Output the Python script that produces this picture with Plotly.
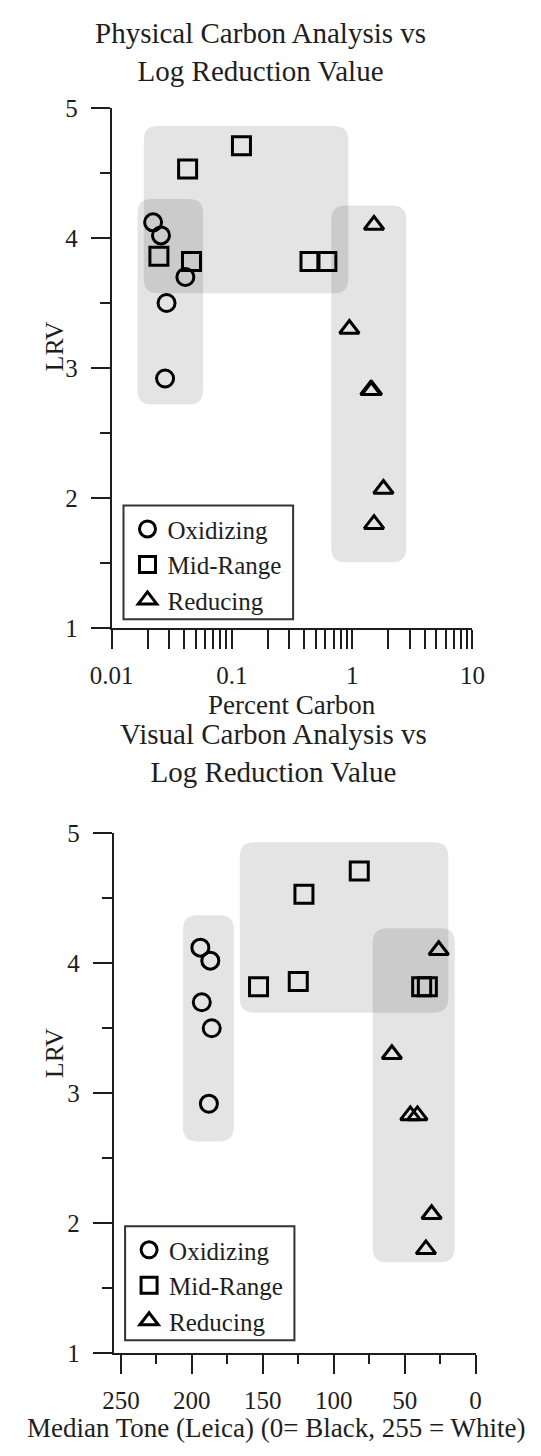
import numpy as np
import plotly.graph_objects as go

# ---------------- data ----------------
series_names = ["Oxidizing", "Mid-Range", "Reducing"]

# Top chart: Percent Carbon vs LRV
ox_pc = [0.0221, 0.0257, 0.0410, 0.0286, 0.0278]
ox_lrv = [4.12, 4.02, 3.70, 3.50, 2.92]
mid_pc = [0.120, 0.0428, 0.0247, 0.0461, 0.446, 0.616]
mid_lrv = [4.71, 4.53, 3.86, 3.82, 3.82, 3.82]
red_pc = [1.52, 0.948, 1.42, 1.46, 1.82, 1.52]
red_lrv = [4.10, 3.30, 2.83, 2.83, 2.07, 1.80]

# Bottom chart: Median Tone vs LRV
ox_tone = [194, 187, 193, 186, 188]
mid_tone = [82, 121, 125, 153, 38, 34]
red_tone = [26, 59, 46, 41, 31, 35]

# Shaded group regions (x range, y range)
pc_regions = [([0.0164, 0.0576], [2.72, 4.30]),
              ([0.0185, 0.93], [3.575, 4.86]),
              ([0.67, 2.82], [1.506, 4.25])]
tone_regions = [([170.4, 206.3], [2.63, 4.37]),
                ([19.2, 166.2], [3.62, 4.93]),
                ([14.7, 72.5], [1.70, 4.27])]

x_top_decades = [0.01, 0.1, 1, 10]
x_bot_ticks = [250, 200, 150, 100, 50, 0]
x_bot_minor = [225, 175, 125, 75, 25]
y_ticks = [1, 2, 3, 4, 5]
y_minor = [1.5, 2.5, 3.5, 4.5]

top_title = "Physical Carbon Analysis vs<br>Log Reduction Value"
bot_title = "Visual Carbon Analysis vs<br>Log Reduction Value"

# ---------------- style ----------------
W, H = 541, 1456
FONT = "Liberation Serif, Times New Roman, serif"
TXT = "#1e1e1e"
AX = "#1e1e1e"
symbols = ["circle-open", "square-open", "triangle-up-open"]
sizes = [17, 18, 17]
FILL = "rgba(0,0,0,0.105)"


def px_x(p):
    return p / W


def px_y(p):
    return 1 - p / H


fig = go.Figure()

top_x = [ox_pc, mid_pc, red_pc]
bot_x = [ox_tone, mid_tone, red_tone]
lrvs = [ox_lrv, mid_lrv, red_lrv]

for i, name in enumerate(series_names):
    fig.add_trace(go.Scatter(
        x=top_x[i], y=lrvs[i], mode="markers", name=name,
        xaxis="x", yaxis="y", legend="legend",
        marker=dict(symbol=symbols[i], size=sizes[i], color="black",
                    line=dict(width=3, color="black")),
        cliponaxis=False))
for i, name in enumerate(series_names):
    fig.add_trace(go.Scatter(
        x=bot_x[i], y=lrvs[i], mode="markers", name=name,
        xaxis="x2", yaxis="y2", legend="legend2",
        marker=dict(symbol=symbols[i], size=sizes[i], color="black",
                    line=dict(width=3, color="black")),
        cliponaxis=False))


def rounded_path(xr, yr, rx, ry, logx=False):
    if logx:
        lx0, lx1 = np.log10(xr[0]), np.log10(xr[1])
        f = lambda v: 10 ** v
    else:
        lx0, lx1 = xr
        f = lambda v: v
    y0, y1 = yr
    pts = [
        ("M", (f(lx0 + rx), y0)),
        ("L", (f(lx1 - rx), y0)),
        ("Q", (f(lx1), y0, f(lx1), y0 + ry)),
        ("L", (f(lx1), y1 - ry)),
        ("Q", (f(lx1), y1, f(lx1 - rx), y1)),
        ("L", (f(lx0 + rx), y1)),
        ("Q", (f(lx0), y1, f(lx0), y1 - ry)),
        ("L", (f(lx0), y0 + ry)),
        ("Q", (f(lx0), y0, f(lx0 + rx), y0)),
    ]
    s = ""
    for cmd, c in pts:
        s += cmd + " " + " ".join(f"{v:.6g}" for v in c) + " "
    return s + "Z"


shapes = []
for xr, yr in pc_regions:
    shapes.append(dict(type="path", xref="x", yref="y", layer="below",
                       path=rounded_path(xr, yr, 0.115, 0.11, logx=True),
                       fillcolor=FILL, line=dict(width=0)))
for xr, yr in tone_regions:
    shapes.append(dict(type="path", xref="x2", yref="y2", layer="below",
                       path=rounded_path(xr, yr, 10, 0.11),
                       fillcolor=FILL, line=dict(width=0)))
# legend frames
for (lx0, lx1, ly0, ly1) in [(108.3, 289.3, 501.7, 617.7),
                             (110.0, 290.7, 1236.3, 1352.3)]:
    shapes.append(dict(type="rect", xref="paper", yref="paper", layer="above",
                       x0=px_x(lx0), x1=px_x(lx1), y0=px_y(ly1), y1=px_y(ly0),
                       fillcolor="white", line=dict(width=2, color="#333333")))

tickfont = dict(family=FONT, size=25, color=TXT)
common_y = dict(range=[1, 5], tickvals=y_ticks, ticks="outside", ticklen=19,
                tickwidth=2, tickcolor=AX, showline=True, linecolor=AX,
                linewidth=2, showgrid=False, zeroline=False,
                tickfont=tickfont, ticklabelstandoff=8,
                minor=dict(tickvals=y_minor, ticks="outside", ticklen=10,
                           tickwidth=2, tickcolor=AX, showgrid=False))

# top log x ticks: every digit of each decade, labels only on decades
top_vals, top_text = [], []
for d in x_top_decades[:-1]:
    for k in range(1, 10):
        top_vals.append(d * k)
        top_text.append(f"{d:g}" if k == 1 else "")
top_vals.append(x_top_decades[-1])
top_text.append(f"{x_top_decades[-1]:g}")

legend_common = dict(font=dict(family=FONT, size=25, color=TXT),
                     borderwidth=0, bgcolor="rgba(0,0,0,0)",
                     xanchor="left", yanchor="top", tracegroupgap=0,
                     itemsizing="trace", indentation=4)

fig.update_layout(
    width=W, height=H, margin=dict(l=0, r=0, t=0, b=0),
    paper_bgcolor="white", plot_bgcolor="rgba(0,0,0,0)",
    font=dict(family=FONT, color=TXT),
    showlegend=True,
    shapes=shapes,
    xaxis=dict(type="log", range=[-2, 1], domain=[px_x(95.7), px_x(480.6)],
               anchor="y", tickvals=top_vals, ticktext=top_text,
               ticks="outside", ticklen=19, tickwidth=2, tickcolor=AX,
               showline=True, linecolor=AX, linewidth=2, showgrid=False,
               zeroline=False, tickfont=tickfont, ticklabelstandoff=5),
    yaxis=dict(domain=[px_y(626.8), px_y(96.7)], anchor="x", **common_y),
    xaxis2=dict(range=[255, 0], domain=[px_x(98), px_x(484)], anchor="y2",
                tickvals=x_bot_ticks, ticks="outside", ticklen=19,
                tickwidth=2, tickcolor=AX, showline=True, linecolor=AX,
                linewidth=2, showgrid=False, zeroline=False,
                tickfont=tickfont, ticklabelstandoff=5,
                minor=dict(tickvals=x_bot_minor, ticks="outside", ticklen=9,
                           tickwidth=2, tickcolor=AX, showgrid=False)),
    yaxis2=dict(domain=[px_y(1365.7), px_y(835.7)], anchor="x2", **common_y),
    legend=dict(x=px_x(108.3), y=px_y(502.5), **legend_common),
    legend2=dict(x=px_x(110), y=px_y(1237), **legend_common),
)

ann = []
title_font = dict(family=FONT, size=29, color=TXT)
axis_font = dict(family=FONT, size=27, color=TXT)
lrv_font = dict(family=FONT, size=26, color=TXT)


def add_text(text, x, y, font, angle=0):
    ann.append(dict(text=text, x=px_x(x), y=px_y(y), xref="paper", yref="paper",
                    showarrow=False, font=font, textangle=angle,
                    xanchor="center", yanchor="middle"))


add_text(top_title, 254, 39.5, title_font)
add_text(bot_title, 268, 753.5, title_font)
add_text("Percent Carbon", 288, 705, axis_font)
add_text("Median Tone (Leica) (0= Black, 255 = White)", 271, 1442, axis_font)
add_text("LRV", 35, 340, lrv_font, -90)
add_text("LRV", 35, 1060, lrv_font, -90)
fig.update_layout(annotations=ann)

fig.write_html("out.html")
